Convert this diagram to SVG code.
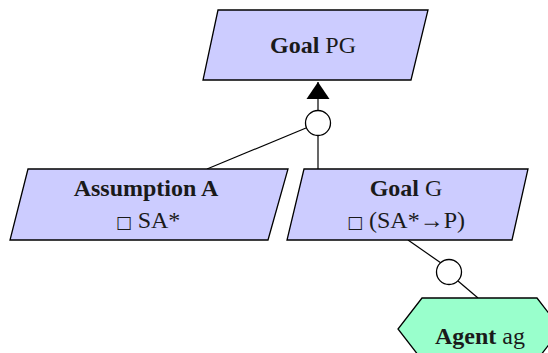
<svg xmlns="http://www.w3.org/2000/svg" width="548" height="353" viewBox="0 0 548 353">
  <style>
    .goal { fill: #ccccff; stroke: #000; stroke-width: 1.3; }
    .agent { fill: #99ffcc; stroke: #000; stroke-width: 1.3; }
    .link { fill: none; stroke: #000; stroke-width: 1.2; }
    .ref { fill: #fff; stroke: #000; stroke-width: 1.3; }
    text { font-family: "Liberation Serif", "Times New Roman", serif; font-size: 24px; fill: #1a1a1a; text-anchor: middle; }
    .b { font-weight: bold; }
    .sq { font-family: "DejaVu Sans", sans-serif; font-size: 17px; }
  </style>
  <defs>
    <marker id="arrow" markerWidth="18" markerHeight="24" refX="17" refY="12" orient="auto" markerUnits="userSpaceOnUse">
      <path d="M0,0.5 L17,12 L0,23.5 z" fill="#000"/>
    </marker>
  </defs>

  <g id="connectors">
    <line class="link" x1="318" y1="111" x2="318" y2="82" marker-end="url(#arrow)"/>
    <line class="link" x1="306" y1="128" x2="207" y2="169"/>
    <line class="link" x1="318" y1="135" x2="318" y2="169"/>
    <line class="link" x1="408" y1="240" x2="441" y2="263"/>
    <line class="link" x1="458" y1="281" x2="478" y2="298"/>
    <circle class="ref" cx="318" cy="123" r="12.5"/>
    <circle class="ref" cx="449" cy="272" r="12.5"/>
  </g>

  <g id="goal-pg">
    <polygon class="goal" points="218,10 428,10 411,80 203,80"/>
    <text x="313" y="53"><tspan class="b">Goal</tspan> PG</text>
  </g>

  <g id="assumption-a">
    <polygon class="goal" points="28,169 288,169 268,240 10,240"/>
    <text x="146" y="196" class="b">Assumption A</text>
    <text x="148" y="228"><tspan class="sq">□</tspan> SA*</text>
  </g>

  <g id="goal-g">
    <polygon class="goal" points="304,169 528,169 512,240 287,240"/>
    <text x="406" y="196"><tspan class="b">Goal</tspan> G</text>
    <text x="406" y="228"><tspan class="sq">□</tspan> (SA*→P)</text>
  </g>

  <g id="agent-ag">
    <polygon class="agent" points="422,298 537,298 561,329 537,360 422,360 398,329"/>
    <text x="480" y="344"><tspan class="b">Agent</tspan> ag</text>
  </g>
</svg>
